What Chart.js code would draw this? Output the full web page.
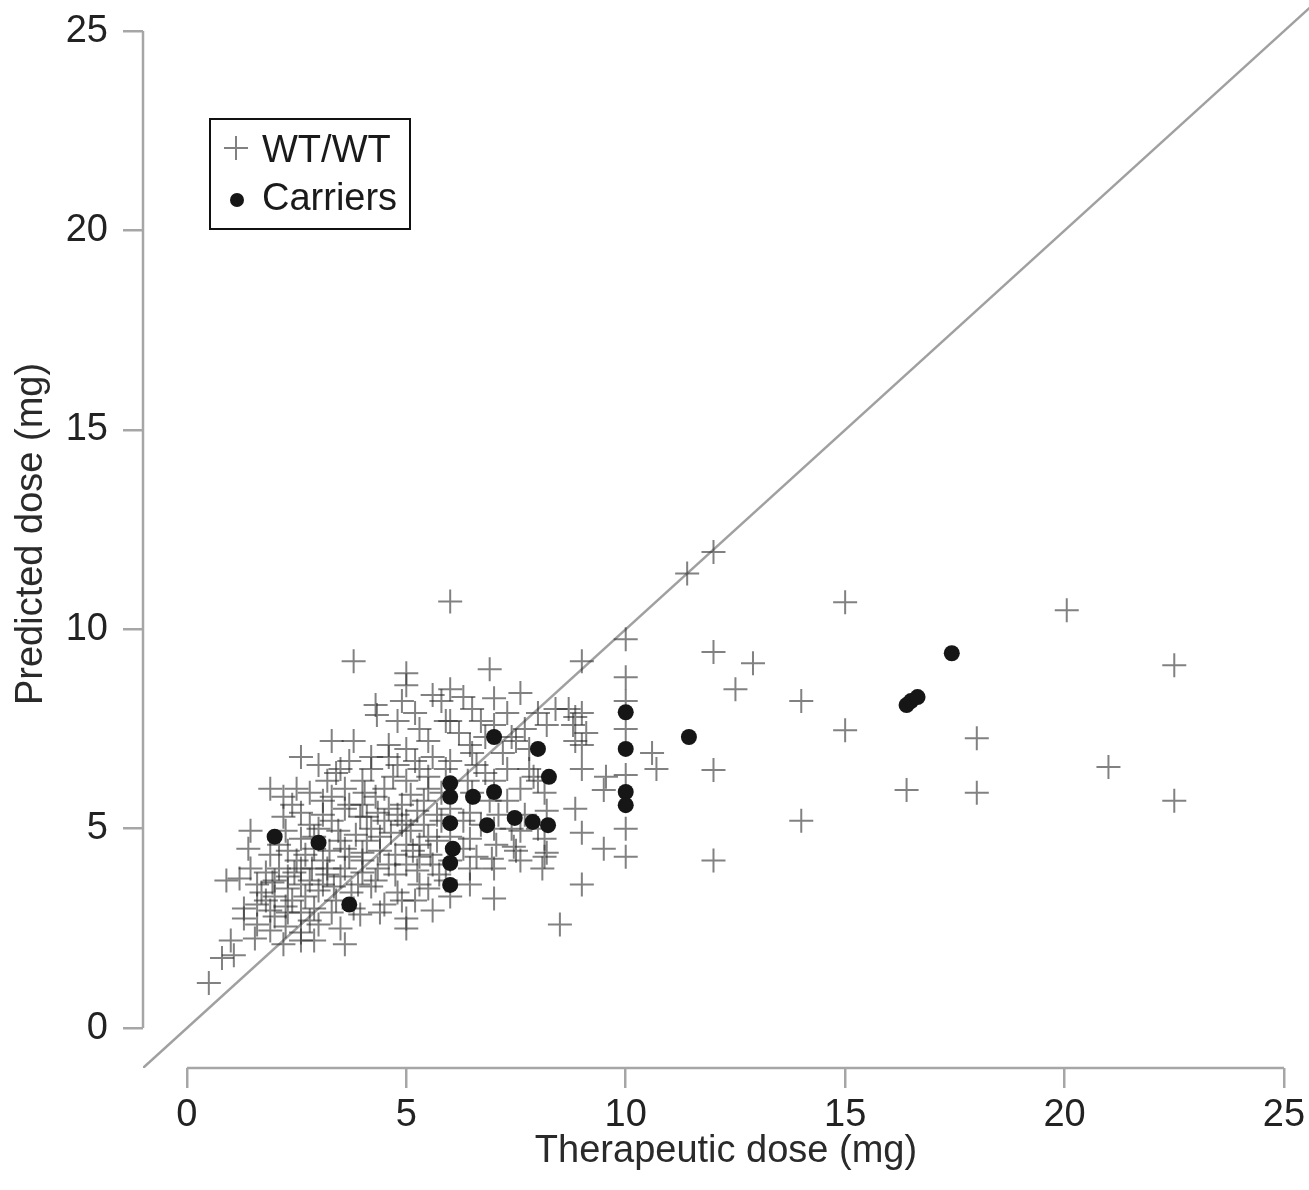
<!DOCTYPE html>
<html>
<head>
<meta charset="utf-8">
<script src="https://cdn.jsdelivr.net/npm/chart.js@4.4.1/dist/chart.umd.min.js"></script>
<style>
  html, body { margin: 0; padding: 0; background: #fff; }
  #wrap { width: 1309px; height: 1190px; }
</style>
</head>
<body>
<div id="wrap"><canvas id="c" width="1309" height="1190"></canvas></div>
<script>
// ---------- data ----------
const tickValues = [0, 5, 10, 15, 20, 25];
const xTitle = 'Therapeutic dose (mg)';
const yTitle = 'Predicted dose (mg)';
const legendLabels = ['WT/WT', 'Carriers'];

const wtX = [
  12.0, 11.4, 15.0, 20.05, 22.5, 12.0, 12.9, 12.5, 14.0, 15.0, 18.0, 21.0, 16.4, 18.0, 22.5, 14.0, 12.0, 12.0, 10.6, 10.7,
  10, 10, 10, 10, 10, 10, 10,
  9.0, 8.7, 9.0, 8.8, 9.1, 9.0, 9.0, 9.55, 9.5, 8.85, 9.0, 9.5, 9.0, 8.5, 8.2, 7.45,
  6.0, 3.8, 5.0, 5.0, 6.9, 7.0, 5.8, 6.3, 5.6, 4.3, 7.6, 8.0, 8.4, 8.85, 8.85, 8.2, 7.4, 7.7, 6.0, 6.0, 6.0,
  4.33, 4.8, 5.3, 5.9, 6.7,
  3.8, 4.6, 5.5, 6.45, 7.5, 3.3,
  3.5, 4.2, 4.8, 5.3, 5.9, 6.6, 7.3, 7.8, 2.6,
  1.9, 2.5, 3.1, 3.6, 4.05, 4.5, 5.1, 5.5, 6.5, 6.9, 7.6, 8.15,
  2.6, 3.1, 3.6, 3.95, 4.35, 4.8, 5.25, 5.7, 6.45, 7.1, 7.7, 8.2,
  1.45, 2.25, 2.6, 3.45, 3.85, 4.2, 4.65, 5.1, 5.5, 6.45, 7.05, 7.6, 8.15,
  1.4, 1.9, 2.3, 2.7, 3.25, 3.6, 4.0, 4.4, 4.75, 5.15, 5.55, 6.95, 7.5, 8.15,
  1.45, 1.8, 2.1, 2.45, 2.85, 3.2, 3.6, 4.0, 4.35, 4.75, 5.25, 5.75, 6.45,
  0.9, 1.2, 1.6, 1.95, 2.3, 2.6, 3.0, 3.35, 3.75, 4.2, 4.8, 5.5, 6.45, 7.0,
  1.3, 1.6, 1.9, 2.25, 2.6, 2.9, 3.3, 3.95, 5.0, 5.6,
  1.3, 1.6, 1.9, 2.25, 2.6, 3.0, 5.0,
  1.0, 1.55, 2.2, 2.6, 3.6,
  0.8, 1.07, 0.5,
  2.0, 2.4, 2.8, 3.1, 3.4, 2.1, 2.8, 3.3, 4.1, 4.5, 4.9, 5.3, 5.4, 6.0, 6.0, 6.0, 6.0, 5.0, 5.0, 5.0, 5.0, 4.0, 4.0, 3.5,
  2.5, 1.7, 2.0, 2.8, 7.0, 7.0, 7.0, 7.0, 6.5, 5.6, 4.6, 5.6, 6.7, 6.3, 7.3, 8.0, 8.0, 8.1, 4.5, 3.8, 5.2, 3.0, 2.2, 3.7,
  2.2, 2.4, 2.8, 3.2, 3.4, 3.0, 2.9, 3.3, 3.7, 4.1, 4.3, 4.6, 4.2, 4.7, 5.2, 5.5, 5.8, 5.4, 4.9, 4.4,
  4.0, 3.7, 3.2, 2.9, 2.6, 2.3, 2.0, 1.8, 2.3, 2.7, 3.1, 3.5, 3.9, 4.3, 4.6, 5.0, 5.3, 5.7, 5.8, 6.3,
  6.4, 6.8, 7.2, 6.8, 6.2, 5.2, 4.9, 6.5, 7.3, 7.8, 7.9, 7.4, 7.6, 6.6, 5.9, 5.3, 4.9, 4.4, 3.5, 2.9
];
const wtY = [
  11.94, 11.4, 10.68, 10.48, 9.1, 9.43, 9.15, 8.5, 8.2, 7.47, 7.27, 6.55, 5.97, 5.9, 5.7, 5.2, 6.47, 4.2, 6.9, 6.5,
  9.75, 8.8, 8.2, 7.5, 6.35, 5.0, 4.3,
  9.2, 8.0, 7.9, 7.6, 7.4, 7.1, 6.5, 6.3, 5.97, 5.5, 4.9, 4.5, 3.6, 2.6, 4.4, 4.55,
  10.7, 9.2, 8.9, 8.6, 9.0, 8.27, 8.2, 8.3, 8.35, 8.1, 8.4, 7.9, 8.0, 7.8, 7.2, 7.6, 7.3, 7.5, 8.5, 7.7, 6.7,
  7.85, 7.7, 7.5, 7.7, 7.7,
  7.2, 7.1, 7.2, 7.1, 7.2, 7.2,
  6.5, 6.5, 6.6, 6.5, 6.5, 6.6, 6.5, 6.5, 6.8,
  6.0, 6.0, 5.7, 6.0, 5.9, 6.0, 5.85, 6.0, 5.9, 5.7, 6.0, 5.9,
  5.4, 5.35, 5.5, 5.3, 5.4, 5.35, 5.45, 5.35, 5.4, 5.35, 5.35, 5.45,
  4.95, 4.95, 4.75, 4.95, 4.85, 5.0, 4.9, 4.95, 4.8, 4.75, 4.6, 4.95, 4.75,
  4.5, 4.35, 4.45, 4.35, 4.45, 4.5, 4.4, 4.45, 4.35, 4.45, 4.35, 4.25, 4.45, 4.3,
  4.0, 3.9, 4.0, 3.9, 4.0, 3.85, 4.0, 3.9, 4.0, 3.85, 3.95, 3.85, 4.0,
  3.7, 3.75, 3.6, 3.65, 3.5, 3.6, 3.45, 3.55, 3.4, 3.55, 3.4, 3.5, 3.6, 3.25,
  3.0, 3.1, 2.95, 3.05, 2.9, 3.0, 2.9, 2.85, 2.75, 2.95,
  2.75, 2.6, 2.45, 2.55, 2.4, 2.6, 2.5,
  2.2, 2.25, 2.1, 2.2, 2.1,
  1.76, 1.83, 1.13,
  3.3, 3.2, 3.7, 4.2, 3.2, 4.6, 5.1, 5.8, 4.7, 5.2, 5.6, 4.6, 5.1, 5.5, 4.8, 4.2, 3.3, 4.1, 5.2, 6.2, 7.0, 6.2, 5.6, 4.7,
  4.2, 3.4, 2.8, 2.7, 6.2, 5.0, 4.0, 7.6, 6.9, 6.8, 6.8, 4.1, 5.1, 4.5, 5.7, 6.2, 5.0, 4.0, 3.1, 3.0, 3.2, 5.0, 5.3, 6.7,
  5.8, 5.6, 5.9, 6.2, 6.4, 6.6, 4.8, 5.2, 5.6, 5.3, 5.8, 5.5, 6.8, 6.3, 6.7, 6.3, 5.9, 5.7, 5.1, 4.8,
  4.2, 4.3, 4.0, 4.5, 4.0, 3.8, 3.7, 3.2, 2.9, 3.3, 3.6, 3.8, 3.6, 3.7, 4.1, 4.6, 4.3, 4.7, 5.2, 5.2,
  6.2, 6.4, 6.9, 7.3, 7.4, 7.9, 8.2, 8.0, 7.9, 7.0, 6.3, 5.0, 4.2, 4.3, 3.7, 3.6, 3.2, 2.9, 2.5, 2.2
];

const carrierX = [2.0, 3.0, 3.7, 7.0, 6.0, 6.0, 6.52, 7.0, 6.0, 6.84, 6.06, 6.0, 6.0, 10.0, 8.0, 10.0, 8.25, 10.0, 10.0, 7.47, 7.88, 8.23, 11.44, 17.43, 16.4, 16.5, 16.65];
const carrierY = [4.8, 4.65, 3.1, 7.3, 6.14, 5.8, 5.8, 5.92, 5.14, 5.09, 4.5, 4.14, 3.59, 7.92, 7.0, 7.0, 6.3, 5.92, 5.59, 5.27, 5.17, 5.09, 7.3, 9.4, 8.1, 8.2, 8.3];

const identityX = [-1, 26];
const identityY = [-1, 26];

// ---------- styles ----------
const FONT = "'Liberation Sans', Arial, Helvetica, sans-serif";
const AXIS_GRAY = '#a6a6a6';
const PLUS_COLOR = 'rgba(45,45,45,0.6)';
const DOT_COLOR = '#161616';

const toPts = (xs, ys) => xs.map((x, i) => ({ x: x, y: ys[i] }));

const axisPlugin = {
  id: 'rAxes',
  afterDatasetsDraw(chart) {
    const { ctx, scales: { x, y } } = chart;
    const x0 = x.getPixelForValue(tickValues[0]);
    const x1 = x.getPixelForValue(tickValues[tickValues.length - 1]);
    const y0 = y.getPixelForValue(tickValues[0]);
    const y1 = y.getPixelForValue(tickValues[tickValues.length - 1]);
    ctx.save();
    ctx.strokeStyle = AXIS_GRAY;
    ctx.lineWidth = 2.5;
    ctx.beginPath();
    ctx.moveTo(chart.chartArea.left, y0);
    ctx.lineTo(chart.chartArea.left, y1);
    ctx.moveTo(x0, chart.chartArea.bottom);
    ctx.lineTo(x1, chart.chartArea.bottom);
    ctx.stroke();
    ctx.restore();
  },
  afterDraw(chart) {
    // legend box (inside plot, top-left)
    const { ctx } = chart;
    ctx.save();
    ctx.strokeStyle = '#111';
    ctx.lineWidth = 2;
    ctx.strokeRect(210, 119, 200, 110);
    ctx.strokeStyle = PLUS_COLOR;
    ctx.lineWidth = 2;
    ctx.beginPath();
    ctx.moveTo(224, 148); ctx.lineTo(248, 148);
    ctx.moveTo(236, 136); ctx.lineTo(236, 160);
    ctx.stroke();
    ctx.fillStyle = DOT_COLOR;
    ctx.beginPath();
    ctx.arc(237, 200, 7, 0, Math.PI * 2);
    ctx.fill();
    ctx.fillStyle = '#1a1a1a';
    ctx.font = '38px ' + FONT;
    ctx.textBaseline = 'alphabetic';
    ctx.textAlign = 'left';
    ctx.fillText(legendLabels[0], 262, 162);
    ctx.fillText(legendLabels[1], 262, 210);
    ctx.restore();
  }
};

new Chart(document.getElementById('c'), {
  type: 'scatter',
  data: {
    datasets: [
      {
        label: legendLabels[1],
        data: toPts(carrierX, carrierY),
        pointStyle: 'circle',
        pointRadius: 8,
        backgroundColor: DOT_COLOR,
        borderColor: DOT_COLOR,
        borderWidth: 0,
        order: 0
      },
      {
        label: legendLabels[0],
        data: toPts(wtX, wtY),
        pointStyle: 'cross',
        pointRadius: 12,
        borderColor: PLUS_COLOR,
        borderWidth: 2,
        order: 1
      },
      {
        type: 'line',
        label: 'identity',
        data: toPts(identityX, identityY),
        borderColor: '#a0a0a0',
        borderWidth: 2.5,
        pointRadius: 0,
        fill: false,
        order: 2
      }
    ]
  },
  options: {
    responsive: false,
    animation: false,
    events: [],
    devicePixelRatio: 1,
    layout: { padding: 0, autoPadding: false },
    plugins: { legend: { display: false }, tooltip: { enabled: false } },
    scales: {
      x: {
        type: 'linear',
        min: -1,
        max: 25.57,
        afterBuildTicks: (s) => { s.ticks = tickValues.map(v => ({ value: v })); },
        afterFit: (s) => { s.height = 122; s.paddingLeft = 0; s.paddingRight = 0; },
        grid: { drawOnChartArea: false, drawTicks: true, tickLength: 20, color: AXIS_GRAY, lineWidth: 2.5 },
        border: { display: false },
        ticks: { color: '#222', font: { family: FONT, size: 38 }, padding: 5, maxRotation: 0, autoSkip: false },
        title: { display: true, text: xTitle, color: '#2a2a2a', font: { family: FONT, size: 38 }, padding: { top: 0, bottom: 16 } }
      },
      y: {
        type: 'linear',
        min: -1,
        max: 25.78,
        afterBuildTicks: (s) => { s.ticks = tickValues.map(v => ({ value: v })); },
        afterFit: (s) => { s.width = 143; s.paddingTop = 0; s.paddingBottom = 0; },
        grid: { drawOnChartArea: false, drawTicks: true, tickLength: 20, color: AXIS_GRAY, lineWidth: 2.5 },
        border: { display: false },
        ticks: { color: '#222', font: { family: FONT, size: 38 }, padding: 15, autoSkip: false },
        title: { display: true, text: yTitle, color: '#2a2a2a', font: { family: FONT, size: 38 }, padding: { top: 9, bottom: 0 } }
      }
    }
  },
  plugins: [axisPlugin]
});
</script>
</body>
</html>
